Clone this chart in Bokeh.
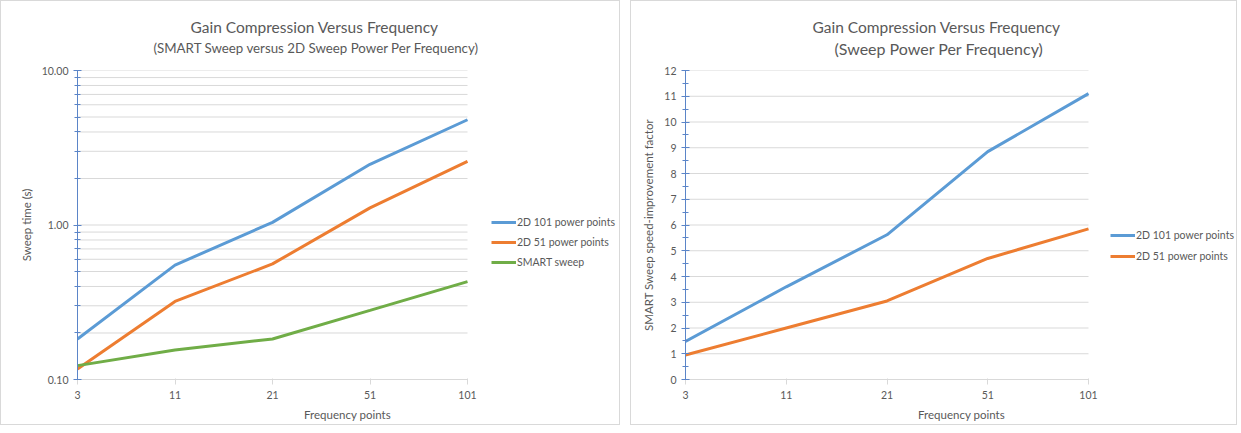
from bokeh.plotting import figure
from bokeh.models import (FixedTicker, Legend, LegendItem, Title, Range1d)
from bokeh.layouts import row
from bokeh.embed import file_html
from bokeh.resources import INLINE

# ---------------- data ----------------
freq_points = ["3", "11", "21", "51", "101"]
sweep_2d_101 = [0.183, 0.55, 1.04, 2.47, 4.8]
sweep_2d_51 = [0.117, 0.32, 0.56, 1.29, 2.58]
smart_sweep = [0.123, 0.155, 0.183, 0.28, 0.43]
log_tick_values = [0.1, 1, 10]
log_tick_labels = ["0.10", "1.00", "10.00"]

improve_101 = [1.48, 3.6, 5.62, 8.85, 11.1]
improve_51 = [0.95, 2.0, 3.05, 4.7, 5.85]
lin_tick_values = list(range(0, 13))
lin_minor_values = [v + 0.5 for v in lin_tick_values[:-1]]

left_title = "Gain Compression Versus Frequency"
left_subtitle = "(SMART Sweep versus 2D Sweep Power Per Frequency)"
right_title = "Gain Compression Versus Frequency"
right_subtitle = "(Sweep Power Per Frequency)"

# ---------------- style ----------------
FONT = "Lato"
TEXT = "#595959"
GRID = "#D9D9D9"
AXIS_BLUE = "#5B85C8"
BLUE = "#5B9BD5"
ORANGE = "#ED7D31"
GREEN = "#70AD47"

xs = list(range(len(freq_points)))
x_last = len(freq_points) - 1


def style_common(p, ylabel):
    p.outline_line_color = None
    p.xgrid.grid_line_color = None
    p.ygrid.grid_line_color = None
    xa = p.xaxis[0]
    xa.bounds = (0, x_last)
    xa.ticker = FixedTicker(ticks=xs)
    xa.major_label_overrides = {i: lab for i, lab in enumerate(freq_points)}
    xa.axis_line_color = GRID
    xa.major_tick_line_color = GRID
    xa.major_tick_in = 1
    xa.major_tick_out = 5
    xa.minor_tick_line_color = None
    xa.major_label_text_font = FONT
    xa.major_label_text_font_size = "10.5px"
    xa.major_label_text_color = TEXT
    xa.major_label_standoff = 6
    xa.axis_label = "Frequency points"
    xa.axis_label_text_font = FONT
    xa.axis_label_text_font_size = "11.5px"
    xa.axis_label_text_font_style = "normal"
    xa.axis_label_text_color = TEXT
    xa.axis_label_standoff = 6

    ya = p.yaxis[0]
    ya.axis_line_color = AXIS_BLUE
    ya.major_tick_line_color = AXIS_BLUE
    ya.minor_tick_line_color = AXIS_BLUE
    ya.major_tick_in = 4
    ya.major_tick_out = 4
    ya.minor_tick_in = 3
    ya.minor_tick_out = 3
    ya.major_label_text_font = FONT
    ya.major_label_text_font_size = "10.5px"
    ya.major_label_text_color = TEXT
    ya.major_label_standoff = 5
    ya.axis_label = ylabel
    ya.axis_label_text_font = FONT
    ya.axis_label_text_font_size = "11.5px"
    ya.axis_label_text_font_style = "normal"
    ya.axis_label_text_color = TEXT
    ya.axis_label_standoff = 6


def add_gridlines(p, values):
    # horizontal gridlines spanning only the category extent (legend sits to the right)
    p.segment(x0=[xs[0]] * len(values), x1=[xs[-1]] * len(values), y0=values, y1=values,
              line_color=GRID, line_width=1)


def add_titles(p, title, subtitle, t_size, s_size, t_off, s_off, s_standoff, t_standoff):
    p.add_layout(Title(text=subtitle, align="left", offset=s_off, text_font=FONT,
                       text_font_size=s_size, text_font_style="normal", text_color=TEXT,
                       standoff=s_standoff), "above")
    p.add_layout(Title(text=title, align="left", offset=t_off, text_font=FONT,
                       text_font_size=t_size, text_font_style="normal", text_color=TEXT,
                       standoff=t_standoff), "above")


def make_legend(items, x, y, spacing):
    return Legend(items=items, location=(x, y), orientation="vertical",
                  label_text_font=FONT, label_text_font_size="10.5px", label_text_color=TEXT,
                  glyph_width=25, glyph_height=12, label_standoff=1, spacing=spacing, padding=0,
                  margin=0, border_line_color=None, background_fill_alpha=0,
                  label_height=14)


# ---------------- left chart ----------------
# frame: 540 px wide, categories occupy the first 390 px, legend in the rest
p1 = figure(width=620, height=425, min_border_left=76, min_border_right=4,
            min_border_top=65, min_border_bottom=47,
            y_axis_type="log", x_range=Range1d(0, x_last * 540 / 390), y_range=Range1d(0.1, 10),
            output_backend="svg", toolbar_location=None,
            styles={"border": "1px solid #D9D9D9"})
style_common(p1, "Sweep time (s)")
minor_log = [m * d for d in log_tick_values[:-1] for m in range(2, 10)]
p1.yaxis[0].ticker = FixedTicker(ticks=log_tick_values, minor_ticks=minor_log)
p1.yaxis[0].major_label_overrides = {v: l for v, l in zip(log_tick_values, log_tick_labels)}
add_gridlines(p1, log_tick_values + minor_log)

r1 = p1.line(xs, sweep_2d_101, line_color=BLUE, line_width=3)
r2 = p1.line(xs, sweep_2d_51, line_color=ORANGE, line_width=3)
r3 = p1.line(xs, smart_sweep, line_color=GREEN, line_width=3)

leg1 = make_legend([LegendItem(label="2D 101 power points", renderers=[r1]),
                    LegendItem(label="2D 51 power points", renderers=[r2]),
                    LegendItem(label="SMART sweep", renderers=[r3])], 414, 110, 6)
p1.add_layout(leg1)
add_titles(p1, left_title, left_subtitle, "15.5px", "13.3px", 113, 76, 29, -25)

# ---------------- right chart ----------------
p2 = figure(width=607, height=425, min_border_left=54, min_border_right=1,
            min_border_top=69, min_border_bottom=45,
            x_range=Range1d(0, x_last * 552 / 403), y_range=Range1d(0, 12),
            output_backend="svg", toolbar_location=None,
            styles={"border": "1px solid #D9D9D9"})
style_common(p2, "SMART Sweep speed-improvement factor")
p2.yaxis[0].ticker = FixedTicker(ticks=lin_tick_values, minor_ticks=lin_minor_values)
add_gridlines(p2, lin_tick_values)

q1 = p2.line(xs, improve_101, line_color=BLUE, line_width=3)
q2 = p2.line(xs, improve_51, line_color=ORANGE, line_width=3)
leg2 = make_legend([LegendItem(label="2D 101 power points", renderers=[q1]),
                    LegendItem(label="2D 51 power points", renderers=[q2])], 425, 116, 7)
p2.add_layout(leg2)
add_titles(p2, right_title, right_subtitle, "15.5px", "16px", 127, 149, 26, -25)

layout = row(p1, p2, spacing=10)
open("out.html", "w").write(file_html(layout, INLINE))
